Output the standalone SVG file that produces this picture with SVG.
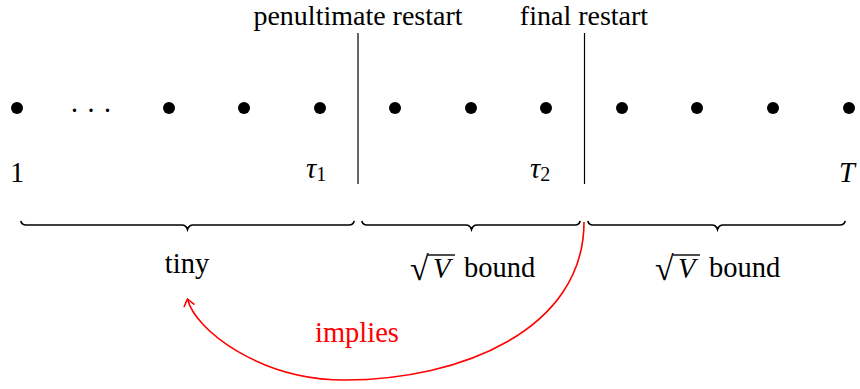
<svg xmlns="http://www.w3.org/2000/svg" width="860" height="389" viewBox="0 0 860 389" font-family="'Liberation Serif', 'Times New Roman', Times, serif">
<defs>
<style>
text{font-family:'Liberation Serif','Times New Roman',Times,serif;font-size:28.5px;fill:#000}
.it{font-style:italic}
.top{font-size:28px}
.rad{font-size:34px}
.dot{fill:#000}
.sep{stroke:#000;stroke-width:1.2;fill:none}
.bar{stroke:#000;stroke-width:1.4}
.brace{stroke:#000;stroke-width:1.7;fill:none;stroke-linecap:round}
.red{stroke:#f00;stroke-width:1.6;fill:none}
</style>
<marker id="arr" viewBox="-8 -6 10 12" markerWidth="10" markerHeight="12" refX="0" refY="0" orient="auto" markerUnits="userSpaceOnUse">
<path d="M-6.5,-5 Q-2,-1.5 0,0 Q-2,1.5 -6.5,5" stroke="#f00" stroke-width="1.6" fill="none" stroke-linecap="round"/>
</marker>
</defs>
<g id="timeline">
<circle class="dot" cx="17" cy="108" r="6"/>
<text x="91" y="120" text-anchor="middle">· · ·</text>
<circle class="dot" cx="169" cy="108" r="6"/>
<circle class="dot" cx="244" cy="108" r="6"/>
<circle class="dot" cx="320" cy="108" r="6"/>
<circle class="dot" cx="395" cy="108" r="6"/>
<circle class="dot" cx="471" cy="108" r="6"/>
<circle class="dot" cx="546" cy="108" r="6"/>
<circle class="dot" cx="622" cy="108" r="6"/>
<circle class="dot" cx="697" cy="108" r="6"/>
<circle class="dot" cx="773" cy="108" r="6"/>
<circle class="dot" cx="849" cy="108" r="6"/>
<text x="17" y="182" text-anchor="middle">1</text>
<text x="306" y="178" class="it" font-size="30">τ<tspan font-style="normal" font-size="20" dy="3">1</tspan></text>
<text x="530" y="178" class="it" font-size="30">τ<tspan font-style="normal" font-size="20" dy="3">2</tspan></text>
<text x="847" y="182" class="it" text-anchor="middle">T</text>
</g>
<g id="penultimate">
<line class="sep" x1="358" y1="33" x2="358" y2="184"/>
<text x="358" y="25" class="top" text-anchor="middle">penultimate restart</text>
</g>
<g id="final">
<line class="sep" x1="584.5" y1="33" x2="584.5" y2="184"/>
<text x="584" y="25" class="top" text-anchor="middle">final restart</text>
</g>
<g id="tiny">
<path class="brace" d="M21,221.5 Q22,225 26,225 L182,225 Q186,225 187.5,229.5 Q189,225 193,225 L349,225 Q353,225 354,221.5"/>
<text x="187" y="273" text-anchor="middle">tiny</text>
</g>
<g id="bound1">
<path class="brace" d="M362,221.5 Q363,225 367,225 L466,225 Q470,225 471.5,229.5 Q473,225 477,225 L575,225 Q579,225 580,221.5"/>
<text x="410" y="280" class="rad">√</text>
<line class="bar" x1="428" y1="255" x2="455" y2="255"/>
<text x="433" y="278" class="it">V</text>
<text x="464" y="277">bound</text>
</g>
<g id="bound2">
<path class="brace" d="M588,221.5 Q589,225 593,225 L712,225 Q716,225 717.5,229.5 Q719,225 723,225 L840,225 Q844,225 845,221.5"/>
<text x="655" y="280" class="rad">√</text>
<line class="bar" x1="673" y1="255" x2="700" y2="255"/>
<text x="678" y="278" class="it">V</text>
<text x="709" y="277">bound</text>
</g>
<g id="connectors">
<path class="red" d="M584,222 C584,330 460,380 345,380 C260,380 195,330 187.5,299" marker-end="url(#arr)"/>
<text x="357" y="342" text-anchor="middle" style="fill:#f00">implies</text>
</g>
</svg>
